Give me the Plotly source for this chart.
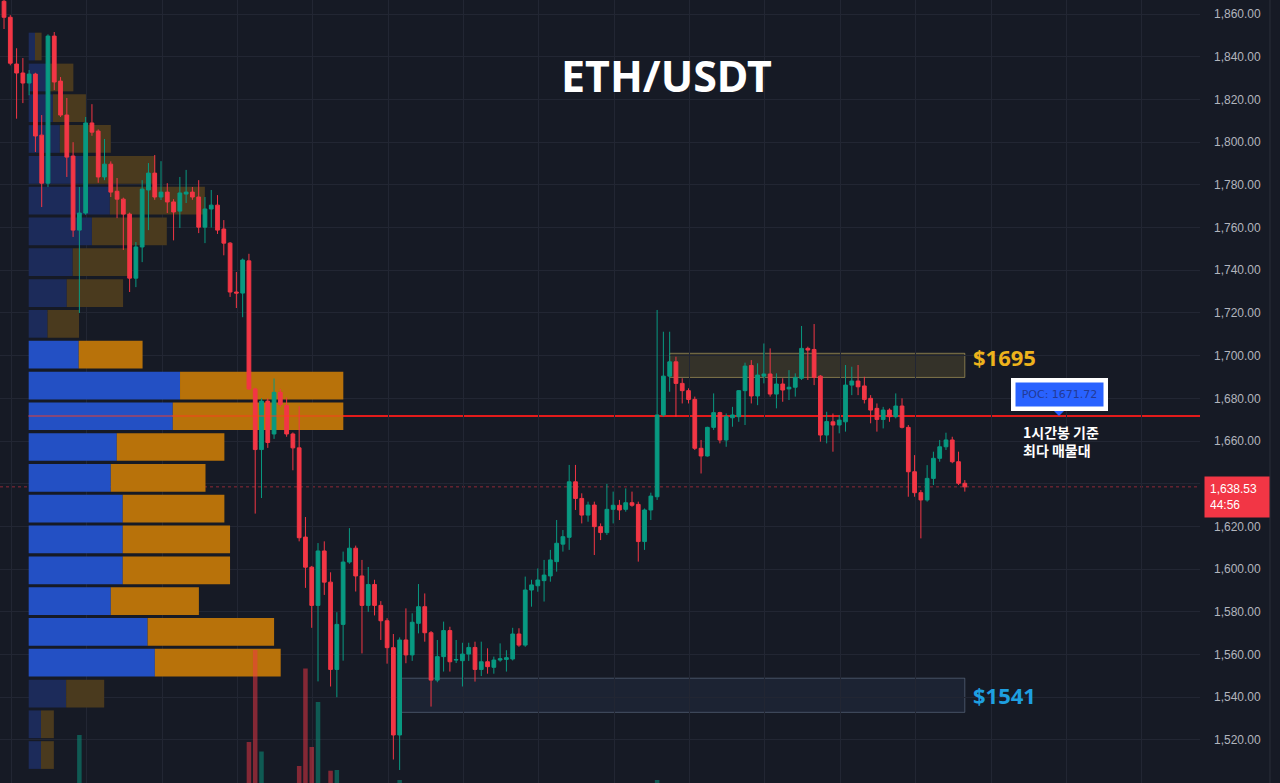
import plotly.graph_objects as go

# ---------------- data ----------------
opens = [1866, 1858.5, 1836.6, 1832.4, 1827.7, 1831.9, 1803.3, 1780.8, 1849.7, 1828.6,
         1812.7, 1793.5, 1758.8, 1766.8, 1809, 1805.2, 1783.7, 1789.7, 1777, 1773.3,
         1766.3, 1736.3, 1750.9, 1777.6, 1785.5, 1774.3, 1776.6, 1772, 1767.7, 1775.7,
         1776.6, 1774.3, 1760.2, 1768.7, 1770.5, 1759.3, 1752.7, 1729.8, 1729.3, 1744.4,
         1684.4, 1656, 1678.7, 1663.3, 1682.8, 1676.6, 1663.3, 1656.8, 1615, 1600.9,
         1583, 1608.5, 1593.9, 1553, 1574.1, 1603.3, 1609.8, 1596.8, 1583, 1592.8,
         1583, 1575.8, 1563.2, 1522.3, 1566.8, 1559.8, 1574.6, 1582.4, 1570.2, 1548,
         1559, 1571.2, 1557.4, 1557.1, 1560.2, 1563.3, 1553, 1556.6, 1554, 1557.4,
         1557.7, 1557.9, 1569.6, 1564.4, 1590.2, 1592.2, 1594.6, 1596.8, 1603.5, 1611.7,
         1614.9, 1640.9, 1633.1, 1625.3, 1630, 1619.9, 1617.1, 1628, 1629.9, 1628,
         1631.1, 1630.3, 1612.9, 1627.7, 1633.9, 1672.2, 1690.4, 1697.1, 1687, 1683.6,
         1679.5, 1656.6, 1653, 1666.4, 1673.3, 1660.5, 1670.9, 1671.4, 1683.6, 1695.4,
         1681.1, 1690.4, 1691.4, 1682, 1686.7, 1684.4, 1685.2, 1689.4, 1703.4, 1702.9,
         1690.4, 1662.8, 1669, 1667.5, 1669, 1686.2, 1688.1, 1685.8, 1680, 1675.3,
         1670.1, 1674.5, 1671.4, 1676.4, 1666.4, 1645.6, 1635.8, 1632.4, 1642.5, 1651.9,
         1657.3, 1660.5, 1650.3, 1640.2]
highs = [1870, 1859.5, 1844, 1839.4, 1833.8, 1832.5, 1812.7, 1850.5, 1851.6, 1830.5,
         1820.7, 1800, 1779, 1811.8, 1817.8, 1806, 1801.5, 1791, 1783.2, 1774,
         1767, 1753.2, 1782.2, 1790.2, 1794, 1791.1, 1780.8, 1773.3, 1783.7, 1787,
         1779, 1782.2, 1774.3, 1777.6, 1775.2, 1763.5, 1753.2, 1739.2, 1745.5, 1747.7,
         1685, 1680, 1680, 1689.3, 1684.4, 1680.4, 1664, 1676.3, 1624.4, 1601.5,
         1612.2, 1613, 1598.5, 1579.8, 1608.2, 1619.2, 1611, 1604.3, 1601, 1595,
         1585, 1577, 1569.6, 1568, 1581.6, 1579.3, 1593, 1588.6, 1571, 1566.8,
         1575.4, 1573, 1566.8, 1565.5, 1565.5, 1566, 1566, 1562.9, 1559, 1565.2,
         1562, 1572.5, 1572.3, 1596.5, 1595, 1600.3, 1604.3, 1609, 1623, 1618.3,
         1648.8, 1648.8, 1635.5, 1631.6, 1631.6, 1621.4, 1639.9, 1636.3, 1632.4, 1637.8,
         1636.3, 1631.6, 1628.4, 1635.8, 1721.4, 1711.2, 1711.2, 1699.5, 1689.4, 1684.7,
         1680.8, 1660.5, 1666.7, 1682.3, 1673.7, 1672.9, 1676, 1683.9, 1696.7, 1697.9,
         1696.4, 1705.7, 1703.4, 1691.7, 1689.4, 1693.2, 1691.7, 1713.9, 1704.2, 1714.8,
         1690.9, 1673.7, 1672.9, 1672.2, 1695.6, 1694.8, 1695.6, 1690.1, 1681.5, 1677.6,
         1676, 1675.3, 1682.3, 1680, 1667.5, 1653.4, 1637, 1648.7, 1655, 1660.5,
         1663.9, 1662, 1655, 1641.7]
lows = [1853, 1836, 1811, 1818.3, 1822, 1795.4, 1769.6, 1779, 1824.4, 1811.8,
        1783.7, 1755.6, 1720, 1766, 1803, 1781, 1782.2, 1774.3, 1764.4, 1749.5,
        1729.8, 1732.1, 1743.8, 1758.8, 1773, 1772.9, 1766.8, 1754, 1759.8, 1771.5,
        1773, 1757.4, 1752.7, 1760, 1757, 1747, 1727.5, 1722.3, 1718, 1684,
        1626, 1633.3, 1656.8, 1661, 1676, 1662, 1646.3, 1613, 1591.2, 1572.5,
        1547.4, 1587.9, 1545, 1540, 1557.1, 1602.5, 1589.5, 1560.5, 1580, 1578.3,
        1566.8, 1555.7, 1510.8, 1505.9, 1555.9, 1557, 1569.9, 1566, 1535.6, 1547,
        1552, 1552, 1556, 1545, 1557, 1547.3, 1549.9, 1551, 1551, 1556.6,
        1552, 1557.2, 1563.6, 1563.6, 1582.4, 1589.4, 1584.8, 1594.1, 1598.8, 1608.2,
        1609, 1627.7, 1621.4, 1622.2, 1606.6, 1613.6, 1616, 1621.4, 1623, 1626.9,
        1629.2, 1603.5, 1609, 1623, 1632.4, 1671.4, 1683.1, 1671.4, 1677.6, 1677.6,
        1655.8, 1644.8, 1652.7, 1665.2, 1658.9, 1657.3, 1666.7, 1669, 1667.5, 1677.6,
        1676.8, 1687, 1680.8, 1675.3, 1678.4, 1679.2, 1680.8, 1688.6, 1688.6, 1686.2,
        1659.7, 1658.9, 1655, 1663.6, 1664.4, 1681.5, 1681.5, 1677.6, 1668.3, 1664.4,
        1665.9, 1669, 1670.6, 1665.9, 1633.9, 1633.9, 1614.4, 1631.6, 1639.4, 1650.3,
        1655.8, 1649.6, 1639.4, 1636.3]
closes = [1858.5, 1837, 1832.4, 1827.7, 1831.9, 1802.9, 1780.8, 1849.7, 1828.2, 1812.7,
          1793, 1758.8, 1766.8, 1809, 1804.7, 1783.7, 1789.7, 1776.6, 1773.3, 1766.3,
          1736.3, 1750.9, 1778, 1785.5, 1774.3, 1776.6, 1772, 1767.3, 1776.2, 1776.6,
          1774.3, 1760.2, 1768.7, 1770.5, 1758.8, 1752.7, 1729.8, 1729.3, 1744.8, 1684.4,
          1656, 1678.7, 1659.3, 1682.8, 1677.1, 1663.3, 1656.8, 1614.7, 1600.9, 1583,
          1608.5, 1593.9, 1553, 1574.1, 1603.3, 1609.8, 1596.8, 1583, 1592.8, 1583,
          1575.8, 1563.2, 1522.3, 1566.8, 1559.8, 1575.1, 1582.4, 1570.2, 1548, 1559,
          1571.2, 1556.6, 1557.6, 1560.2, 1563.3, 1553, 1556.6, 1554.3, 1557.4, 1558,
          1558.5, 1569.6, 1564.4, 1590.2, 1592.6, 1594.9, 1597.2, 1604.3, 1612.1, 1615.2,
          1640.9, 1633.1, 1625.3, 1630, 1619.9, 1617.1, 1628, 1629.9, 1627.7, 1631.1,
          1629.9, 1612.9, 1627.7, 1634.2, 1672.2, 1690.4, 1697.1, 1687, 1683.6, 1679.5,
          1656.6, 1653, 1666.4, 1673.3, 1660.5, 1671.4, 1672.2, 1683.6, 1695.1, 1681.1,
          1690.9, 1691.4, 1682, 1686.7, 1683.9, 1685.2, 1689.8, 1703.4, 1702.6, 1689.8,
          1662.8, 1669.1, 1667.5, 1669.8, 1686.2, 1688.1, 1685.4, 1679.5, 1674.5, 1670.1,
          1674.5, 1671.4, 1676.4, 1666.4, 1645.6, 1635.8, 1632.4, 1642.5, 1651.9, 1657.3,
          1660.5, 1650.3, 1640.2, 1638.53]
bar_index = list(range(len(opens)))

# visible volume bars (bar index, volume)
vol_index = [12, 39, 40, 41, 47, 48, 49, 50, 52, 53, 63, 104]
vol_values = [108, 101, 193, 91.5, 77, 174.5, 96, 141, 72.3, 73, 63, 63]

# volume profile (visible range), row centre prices, buy / sell volume (% of POC row)
profile_prices = [1844.8, 1830.3, 1815.9, 1801.5, 1787.0, 1772.6, 1758.2, 1743.8, 1729.3, 1714.9,
                  1700.5, 1686.0, 1671.6, 1657.2, 1642.7, 1628.3, 1613.9, 1599.4, 1585.0, 1570.6,
                  1556.2, 1541.7, 1527.3, 1512.9]
profile_buy = [2.0, 6.8, 7.7, 9.9, 17.3, 25.8, 20.1, 14.0, 12.1, 6.0,
               15.9, 48.1, 45.8, 28.0, 26.1, 29.9, 29.9, 29.9, 26.1, 37.8,
               40.1, 11.9, 3.9, 3.9]
profile_sell = [2.1, 7.4, 10.5, 16.2, 22.9, 30.2, 23.8, 17.6, 17.9, 10.0,
                20.3, 51.9, 54.2, 34.2, 30.1, 32.3, 34.1, 34.1, 28.0, 40.2,
                40.0, 12.1, 4.1, 4.1]
value_area_high = 1700.5
value_area_low = 1556.2
profile_row_size = 14.43

poc_price = 1671.72
last_price = 1638.53
countdown = "44:56"
res_zone = (1689.8, 1701.1)
sup_zone = (1532.9, 1548.9)
res_label = "$1695"
sup_label = "$1541"
zone_start_res = 106
zone_start_sup = 63
zone_end = 153
poc_label_bar = 168
note_bar = 162

price_ticks = list(range(1500, 1861, 20))
# ticks hidden behind the last-price label
price_tick_text = ["" if abs(t - last_price) < 10 else f"{t:,.2f}" for t in price_ticks]

# ---------------- styling ----------------
BG = "#161a25"
GRID = "#222633"
UP = "#089981"
DOWN = "#f23645"
x_range = [-0.64, 190.45]
y_range = [1499.8, 1866.6]
vol_range = [60, 843]
profile_range = [-9.12, 372.3]

fig = go.Figure()

in_va = [value_area_low <= p <= value_area_high for p in profile_prices]
buy_colors = ["#2350c4" if v else "#1c2b5a" for v in in_va]
sell_colors = ["#b8720a" if v else "#4a3a1e" for v in in_va]

fig.add_trace(go.Bar(
    y=profile_prices, x=profile_buy, base=[0] * len(profile_buy), orientation="h",
    width=profile_row_size * 0.9, marker=dict(color=buy_colors, line_width=0),
    xaxis="x2", yaxis="y", hoverinfo="skip", showlegend=False))
fig.add_trace(go.Bar(
    y=profile_prices, x=profile_sell, base=profile_buy, orientation="h",
    width=profile_row_size * 0.9, marker=dict(color=sell_colors, line_width=0),
    xaxis="x2", yaxis="y", hoverinfo="skip", showlegend=False))

vol_colors = ["rgba(8,153,129,0.5)" if closes[i] >= opens[i] else "rgba(242,54,69,0.5)"
              for i in vol_index]
fig.add_trace(go.Bar(
    x=vol_index, y=vol_values, width=0.72, marker=dict(color=vol_colors, line_width=0),
    xaxis="x3", yaxis="y2", hoverinfo="skip", showlegend=False))

fig.add_trace(go.Candlestick(
    x=bar_index, open=opens, high=highs, low=lows, close=closes,
    increasing=dict(line=dict(color=UP, width=1), fillcolor=UP),
    decreasing=dict(line=dict(color=DOWN, width=1), fillcolor=DOWN),
    xaxis="x4", yaxis="y", hoverinfo="skip", showlegend=False))

poc_total = max(b + s for b, s in zip(profile_buy, profile_sell))

shapes = [
    # current price dotted line
    dict(type="line", xref="paper", yref="y", x0=0, x1=1, y0=last_price, y1=last_price,
         line=dict(color="rgba(242,54,69,0.55)", width=1, dash="dot"), layer="below"),
    # resistance zone
    dict(type="rect", xref="x", yref="y", x0=zone_start_res, x1=zone_end,
         y0=res_zone[0], y1=res_zone[1], fillcolor="rgba(110,98,50,0.35)",
         line=dict(color="rgba(190,170,100,0.6)", width=1), layer="below"),
    # support zone
    dict(type="rect", xref="x", yref="y", x0=zone_start_sup, x1=zone_end,
         y0=sup_zone[0], y1=sup_zone[1], fillcolor="rgba(40,55,78,0.35)",
         line=dict(color="rgba(110,125,150,0.55)", width=1), layer="below"),
    # POC line
    dict(type="line", xref="x2", yref="y", x0=0, x1=profile_range[1], y0=poc_price, y1=poc_price,
         line=dict(color="#e31b1b", width=2), layer="below"),
    dict(type="line", xref="x2", yref="y", x0=0, x1=poc_total,
         y0=poc_price, y1=poc_price, line=dict(color="rgba(255,60,30,0.45)", width=2), layer="above"),
    # POC label pointer
    dict(type="path", xref="x", yref="y", xsizemode="pixel", ysizemode="pixel",
         xanchor=poc_label_bar, yanchor=poc_price, path="M-6,6 L6,6 L0,0 Z",
         fillcolor="#2962ff", line=dict(width=0), layer="above"),
    # axis separator
    dict(type="line", xref="paper", yref="paper", x0=1.0583, x1=1.0583, y0=0, y1=1,
         line=dict(color="#2a2e39", width=1), layer="above"),
]

annotations = [
    dict(text="ETH/USDT", xref="paper", yref="paper", x=0.555, y=1 - 75 / 783,
         showarrow=False, font=dict(family="Noto Sans", size=43, color="white", weight=700),
         xanchor="center", yanchor="middle"),
    dict(text=res_label, xref="x", yref="y", x=zone_end, y=res_zone[1], xshift=6, yshift=-4,
         showarrow=False, xanchor="left", yanchor="middle",
         font=dict(family="Open Sans", size=22, color="#edb21c", weight=700)),
    dict(text=sup_label, xref="x", yref="y", x=zone_end, y=(sup_zone[0] + sup_zone[1]) / 2,
         xshift=6, showarrow=False, xanchor="left", yanchor="middle",
         font=dict(family="Open Sans", size=22, color="#1e9fe0", weight=700)),
    dict(text=f"POC: {poc_price:.2f}", xref="x", yref="y", x=poc_label_bar, y=poc_price,
         yshift=22, showarrow=False, xanchor="center", yanchor="middle",
         font=dict(family="DejaVu Sans", size=11, color="#233a96"),
         bgcolor="#2962ff", bordercolor="white", borderwidth=4.5, borderpad=5,
         width=78, height=14),
    dict(text="1시간봉 기준<br>최다 매물대", xref="x", yref="y", x=note_bar, y=poc_price,
         yshift=-4, showarrow=False, xanchor="left", yanchor="top", align="left",
         font=dict(family="Noto Sans CJK KR", size=14, color="white", weight=700)),
    dict(text=f"{last_price:,.2f}<br>{countdown}", xref="paper", yref="y", x=1, y=last_price,
         xshift=4, yshift=11, showarrow=False, xanchor="left", yanchor="top", align="left",
         font=dict(family="Liberation Sans", size=12, color="white"),
         bgcolor=DOWN, borderpad=5, width=54),
]

fig.update_layout(
    width=1280, height=783,
    margin=dict(l=0, r=80, t=0, b=0),
    paper_bgcolor=BG, plot_bgcolor=BG,
    barmode="overlay", boxgap=0.15, boxgroupgap=0.3,
    showlegend=False, hovermode=False,
    shapes=shapes, annotations=annotations,
    xaxis=dict(range=x_range, showgrid=True, gridcolor=GRID, tick0=13.17, dtick=12,
               showticklabels=False, zeroline=False, showline=False, ticks="",
               rangeslider=dict(visible=False), anchor="y"),
    xaxis2=dict(range=profile_range, overlaying="x", visible=False, anchor="y"),
    xaxis3=dict(range=x_range, overlaying="x", visible=False, anchor="y"),
    xaxis4=dict(range=x_range, overlaying="x", visible=False, anchor="y",
                rangeslider=dict(visible=False)),
    yaxis=dict(range=y_range, side="right", showgrid=True, gridcolor=GRID,
               tickmode="array", tickvals=price_ticks, ticktext=price_tick_text,
               zeroline=False, showline=False, ticks="",
               ticklabelstandoff=13,
               tickfont=dict(family="Liberation Sans", size=12, color="#b2b5be"), anchor="x"),
    yaxis2=dict(range=vol_range, overlaying="y", visible=False, anchor="x"),
)

fig.write_html("out.html")
